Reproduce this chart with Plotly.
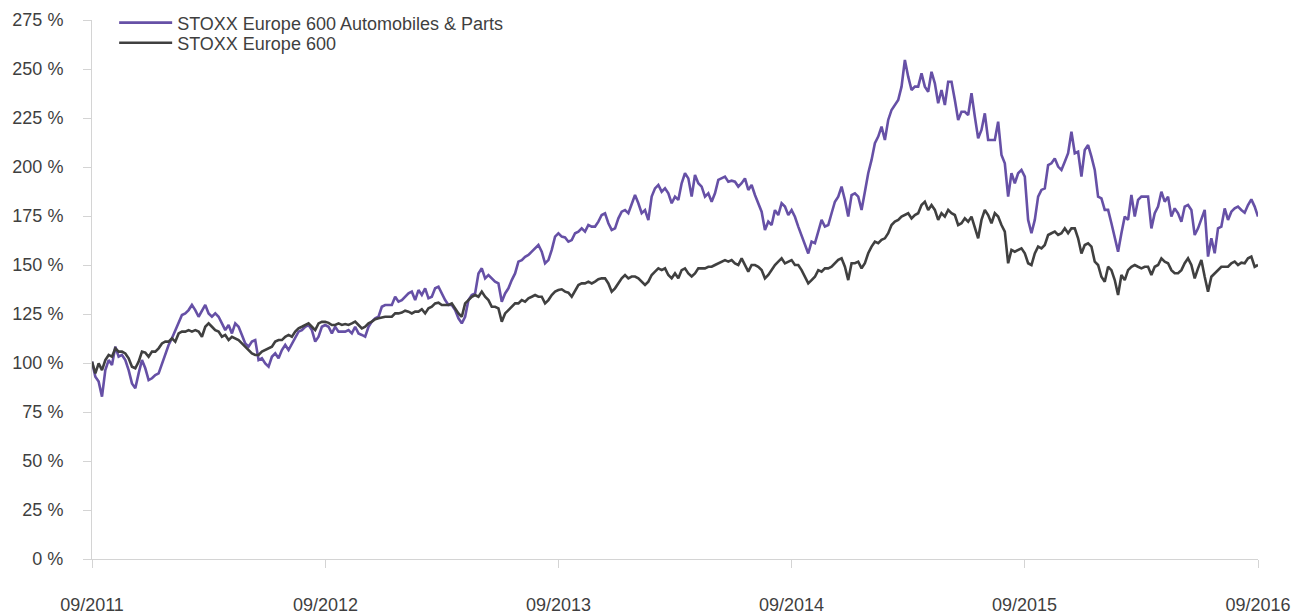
import pandas as pd
import plotly.graph_objects as go

# ---- data (values in %, indexed to 100 at 09/2011), evenly spaced from 09/2011 to 09/2016 ----
start_date = "2011-09-01"
end_date = "2016-09-01"

auto_parts = [
    # 09/2011 - 09/2012
    100.7, 93.0, 90.5, 82.8, 96.4, 101.5, 99.0, 108.3, 103.2, 104.1, 101.5, 96.4, 89.6, 87.1, 94.7, 101.5,
    97.3, 91.3, 92.2, 93.9, 94.7, 99.8, 104.1, 109.2, 112.6, 116.8, 120.2, 124.5, 125.3, 127.0, 129.6, 127.0,
    123.6, 127.0, 129.6, 125.3, 123.6, 125.3, 123.6, 120.2, 116.8, 119.4, 115.1, 120.2, 118.5, 114.3, 110.0,
    108.3, 110.9, 111.7, 101.5, 102.4, 99.8, 98.1, 103.2, 104.9, 102.4, 106.6, 109.2, 106.6, 110.0, 113.4,
    116.0, 116.8, 118.5, 119.4, 116.8, 110.9, 113.4, 118.5, 119.4, 118.5,
    # 09/2012 - 09/2013
    115.1, 118.5, 116.0, 116.0, 116.0, 116.8, 115.1, 118.5, 115.1, 114.3, 113.4, 118.5, 121.1, 122.8, 123.6,
    128.7, 129.6, 129.6, 129.6, 133.8, 131.3, 132.1, 133.8, 135.5, 136.4, 132.1, 137.2, 134.7, 138.1, 133.0,
    133.8, 138.1, 138.9, 135.5, 132.1, 129.6, 129.6, 127.0, 122.8, 120.2, 123.6, 132.1, 134.7, 135.5, 145.7,
    148.3, 143.2, 144.9, 143.2, 141.5, 140.6, 131.3, 135.5, 138.1, 142.3, 145.7, 151.7, 152.5, 154.2, 155.1,
    156.8, 158.5, 160.2, 156.8, 150.9, 152.5, 157.7, 164.5, 166.2, 164.5,
    # 09/2013 - 09/2014
    164.1, 161.9, 162.7, 166.2, 167.0, 168.7, 167.0, 170.4, 169.6, 169.6, 172.1, 175.5, 176.4, 171.3, 167.9,
    168.7, 173.8, 177.2, 178.0, 176.4, 180.6, 185.7, 181.5, 176.4, 178.0, 172.9, 184.9, 189.1, 190.8, 187.4,
    189.1, 186.6, 181.5, 184.9, 183.2, 191.7, 196.8, 194.2, 184.9, 195.9, 191.7, 190.0, 184.9, 186.6, 182.3,
    186.6, 193.4, 194.2, 195.1, 192.5, 193.0, 192.5, 190.0, 191.7, 194.2, 188.3, 190.8, 185.7, 181.5, 177.2,
    167.9, 172.1, 170.4, 178.0, 175.5, 181.5, 179.8, 175.5, 178.0, 174.6,
    # 09/2014 - 09/2015
    169.6, 165.3, 161.1, 155.9, 161.9, 161.1, 167.0, 173.0, 169.6, 170.4, 176.4, 182.3, 184.9, 190.0, 183.2,
    174.7, 185.7, 186.6, 184.9, 178.1, 187.4, 196.8, 203.6, 212.1, 215.5, 220.6, 213.8, 224.0, 229.1, 231.6,
    234.2, 241.0, 254.6, 246.1, 239.3, 241.0, 241.0, 247.8, 241.0, 238.4, 248.6, 242.7, 232.5, 239.3, 231.6,
    243.5, 243.5, 234.2, 224.0, 228.2, 228.2, 226.5, 237.6, 225.7, 214.6, 218.9, 227.4, 213.8, 213.8, 213.8,
    223.1, 206.1, 201.9, 184.9, 196.8, 191.7, 196.8, 198.5, 195.1, 173.0,
    # 09/2015 - 09/2016
    166.2, 173.0, 184.9, 188.3, 189.1, 201.0, 201.9, 204.4, 200.2, 198.5, 202.7, 207.0, 218.0, 207.0, 207.8,
    195.1, 208.7, 211.2, 205.3, 198.5, 184.9, 184.0, 178.1, 178.1, 171.3, 164.5, 156.8, 166.2, 174.7, 173.0,
    185.7, 174.7, 183.2, 184.9, 184.9, 184.9, 168.7, 176.4, 179.8, 187.4, 182.3, 184.9, 174.7, 178.9, 176.4,
    172.1, 179.8, 180.6, 178.1, 165.3, 168.7, 173.0, 178.1, 154.3, 163.6, 156.0, 168.7, 169.6, 178.9, 173.0,
    177.2, 178.9, 179.8, 178.1, 176.7, 180.6, 183.5, 179.8, 174.7,
]

europe_600 = [
    # 09/2011 - 09/2012
    100.7, 94.7, 99.8, 96.4, 101.5, 104.1, 103.2, 107.5, 105.8, 105.8, 104.9, 102.4, 98.1, 97.3, 100.7, 105.8,
    105.3, 103.2, 105.8, 105.8, 107.5, 110.0, 110.9, 110.9, 112.6, 110.9, 115.1, 116.0, 116.0, 116.8, 116.0,
    116.8, 116.0, 113.4, 118.5, 120.2, 118.5, 116.8, 116.0, 113.4, 114.3, 111.7, 113.4, 112.6, 111.7, 110.0,
    108.3, 106.6, 104.9, 104.1, 104.1, 105.8, 106.6, 107.5, 108.3, 110.9, 111.7, 111.7, 113.4, 114.3, 113.4,
    116.0, 117.7, 118.5, 119.4, 120.2, 118.5, 116.8, 120.2, 121.0, 121.0, 120.5,
    # 09/2012 - 09/2013
    119.4, 119.4, 120.2, 119.4, 119.9, 119.4, 120.2, 121.1, 119.4, 117.7, 118.5, 120.2, 121.1, 122.3, 122.8,
    123.3, 123.6, 123.6, 123.6, 125.3, 125.3, 125.7, 126.7, 126.2, 125.3, 126.2, 126.2, 127.4, 125.3, 127.9,
    128.7, 130.4, 130.8, 129.6, 129.6, 129.6, 130.4, 127.9, 125.3, 123.6, 130.4, 132.1, 133.8, 134.7, 133.8,
    136.4, 133.8, 132.1, 128.7, 128.7, 127.9, 121.1, 125.3, 127.0, 128.7, 130.4, 130.4, 132.1, 131.3, 133.0,
    133.8, 134.7, 133.8, 133.8, 130.4, 132.1, 134.7, 136.4, 137.2, 137.6,
    # 09/2013 - 09/2014
    136.4, 135.9, 133.8, 137.2, 139.8, 140.6, 140.6, 141.5, 140.6, 141.5, 142.7, 143.2, 143.2, 140.6, 136.4,
    138.1, 140.6, 143.2, 144.9, 143.2, 144.1, 144.1, 143.2, 141.5, 139.8, 141.5, 144.9, 146.6, 148.3, 147.4,
    148.3, 144.9, 143.2, 145.7, 143.2, 147.4, 148.3, 145.7, 144.1, 145.7, 148.3, 148.3, 148.3, 149.1, 149.1,
    150.0, 150.8, 151.7, 152.5, 151.7, 152.5, 150.8, 150.0, 153.4, 150.0, 146.6, 150.0, 150.0, 149.1, 147.4,
    143.2, 144.9, 147.4, 150.0, 151.7, 153.4, 150.8, 151.7, 152.5, 150.0,
    # 09/2014 - 09/2015
    150.0, 147.4, 144.0, 140.6, 142.3, 144.0, 147.4, 146.6, 148.3, 148.3, 149.1, 150.9, 152.6, 153.4, 149.1,
    142.3, 150.9, 150.9, 151.7, 148.3, 150.9, 156.0, 159.4, 161.9, 161.1, 162.8, 163.6, 166.2, 170.4, 172.1,
    173.0, 174.7, 175.5, 176.4, 173.8, 175.5, 176.4, 180.6, 182.3, 178.1, 180.6, 178.1, 173.0, 176.4, 174.7,
    178.1, 176.4, 175.5, 170.4, 171.3, 173.8, 172.1, 174.7, 169.6, 163.6, 173.0, 178.1, 175.5, 171.3, 176.4,
    174.7, 170.4, 167.0, 150.9, 157.7, 156.8, 157.7, 158.5, 156.0, 150.9,
    # 09/2015 - 09/2016
    150.0, 155.9, 159.4, 158.5, 160.2, 165.3, 166.2, 167.0, 165.3, 166.2, 168.7, 166.2, 168.7, 168.7, 163.6,
    155.9, 160.2, 161.1, 159.4, 151.7, 150.0, 144.0, 141.5, 149.1, 147.4, 142.3, 134.7, 144.9, 142.3, 147.4,
    149.1, 150.0, 149.1, 148.3, 149.1, 149.1, 144.9, 149.1, 150.0, 153.4, 151.7, 150.9, 147.4, 145.8, 145.8,
    147.4, 150.9, 153.4, 150.0, 143.2, 148.3, 152.6, 144.0, 136.4, 144.0, 145.8, 147.8, 149.1, 149.1, 149.1,
    150.9, 151.7, 150.0, 151.2, 150.9, 153.4, 154.3, 149.1, 150.0,
]

series_names = ["STOXX Europe 600 Automobiles & Parts", "STOXX Europe 600"]
series_colors = ["#6650a6", "#404040"]

tick_dates = ["2011-09-01", "2012-09-01", "2013-09-01", "2014-09-01", "2015-09-01", "2016-09-01"]
tick_labels = ["09/2011", "09/2012", "09/2013", "09/2014", "09/2015", "09/2016"]
y_ticks = [0, 25, 50, 75, 100, 125, 150, 175, 200, 225, 250, 275]
y_labels = [f"{v} %" for v in y_ticks]

dates_auto = pd.date_range(start_date, end_date, periods=len(auto_parts))
dates_eu = pd.date_range(start_date, end_date, periods=len(europe_600))

FONT = "Liberation Sans, Arial, sans-serif"
TXT = "#3f3f3f"
AX = "#d4d4d4"
FS = 18

fig = go.Figure()
fig.add_trace(go.Scatter(x=dates_auto, y=auto_parts, mode="lines", name=series_names[0],
                         line=dict(color=series_colors[0], width=2.6), legend="legend"))
fig.add_trace(go.Scatter(x=dates_eu, y=europe_600, mode="lines", name=series_names[1],
                         line=dict(color=series_colors[1], width=2.6), legend="legend2"))

legend_common = dict(
    xanchor="left", yanchor="middle", bgcolor="rgba(0,0,0,0)", borderwidth=0,
    font=dict(family=FONT, size=FS, color=TXT), itemwidth=53, tracegroupgap=0,
)

# the page body adds an 8 px offset, margins compensate for it
fig.update_layout(
    width=1308, height=612,
    margin=dict(l=84, r=58, t=12, b=61, autoexpand=False),
    paper_bgcolor="white", plot_bgcolor="white",
    font=dict(family=FONT, size=FS, color=TXT),
    showlegend=True,
    legend=dict(x=0.019, y=0.9945, **legend_common),
    legend2=dict(x=0.019, y=0.9573, **legend_common),
    xaxis=dict(
        range=[start_date, end_date], tickvals=tick_dates, ticktext=tick_labels,
        showgrid=False, zeroline=False, showline=True, linecolor=AX, linewidth=1,
        ticks="outside", ticklen=8, tickcolor=AX, tickwidth=1, automargin=False,
        ticklabelstandoff=21, tickfont=dict(family=FONT, size=FS, color=TXT),
    ),
    yaxis=dict(
        range=[0, 275], tickvals=y_ticks, ticktext=y_labels,
        showgrid=False, zeroline=False, showline=True, linecolor=AX, linewidth=1,
        ticks="outside", ticklen=8, tickcolor=AX, tickwidth=1, automargin=False,
        ticklabelstandoff=16, tickfont=dict(family=FONT, size=FS, color=TXT),
    ),
)

fig.write_html("out.html")
